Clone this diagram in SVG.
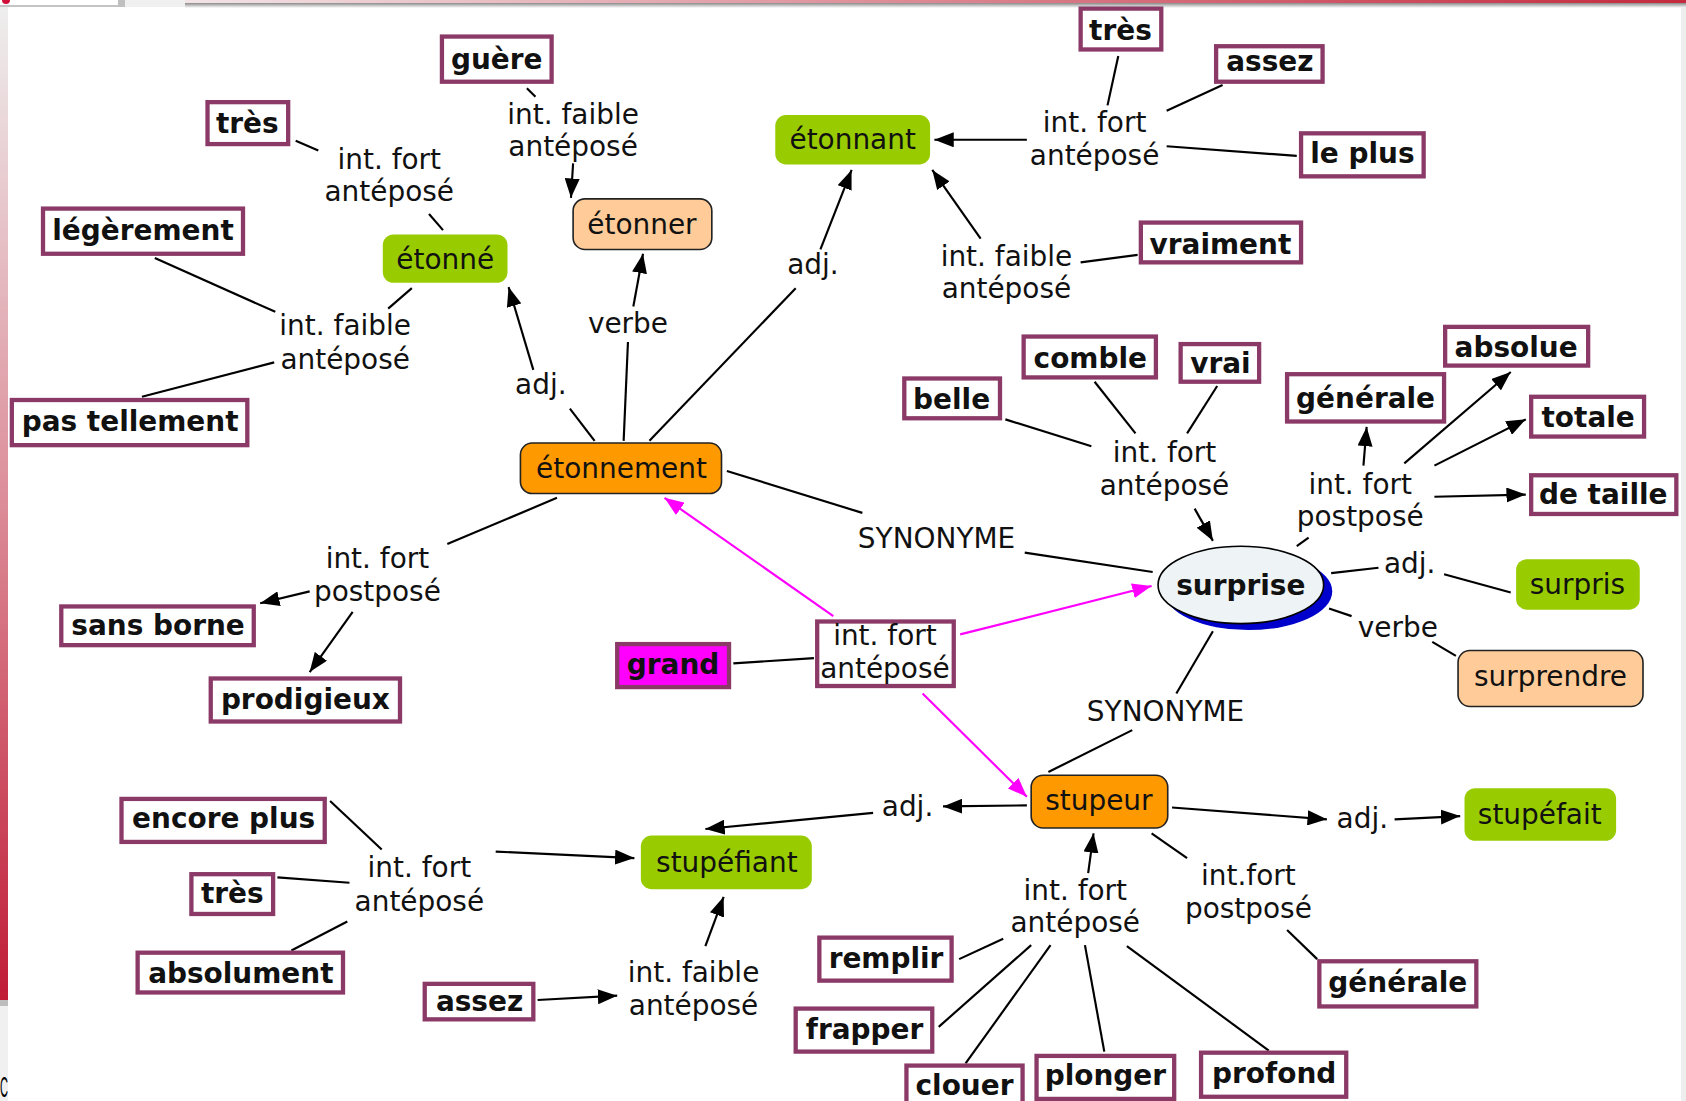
<svg xmlns="http://www.w3.org/2000/svg" width="1686" height="1101" viewBox="0 0 1686 1101">
<defs>
<linearGradient id="gLeft" x1="0" y1="0" x2="0" y2="1">
<stop offset="0" stop-color="#eeeeee"/>
<stop offset="0.5" stop-color="#dc8c98"/>
<stop offset="1" stop-color="#c01c36"/>
</linearGradient>
<linearGradient id="gTop" x1="0" y1="0" x2="1" y2="0">
<stop offset="0" stop-color="#f2e4e6"/>
<stop offset="1" stop-color="#c42a3e"/>
</linearGradient>
<linearGradient id="gShade" x1="0" y1="0" x2="0" y2="1">
<stop offset="0" stop-color="#8a8a8a"/>
<stop offset="1" stop-color="#ffffff"/>
</linearGradient>
<marker id="ah" viewBox="0 0 18 14" refX="18" refY="7" markerWidth="18" markerHeight="14" orient="auto" markerUnits="userSpaceOnUse">
<path d="M0,0 L18,7 L0,14 z" fill="#000"/>
</marker>
<marker id="am" viewBox="0 0 18 14" refX="18" refY="7" markerWidth="18" markerHeight="14" orient="auto" markerUnits="userSpaceOnUse">
<path d="M0,0 L18,7 L0,14 z" fill="#ff00ff"/>
</marker>
</defs>
<style>
.lbl{font-family:"DejaVu Sans","Noto Sans",sans-serif;font-size:26px;fill:#111;text-anchor:middle}
.bt{font-family:"DejaVu Sans","Noto Sans",sans-serif;font-size:26px;font-weight:bold;fill:#111;text-anchor:middle}
.nt{font-family:"DejaVu Sans","Noto Sans",sans-serif;font-size:26px;fill:#111;text-anchor:middle}
.pb{fill:#fff;stroke:#8b3a68;stroke-width:4}
.gr{fill:#99cc00}
.pe{fill:#ffcc99;stroke:#222;stroke-width:1.5}
.or{fill:#ff9900;stroke:#222;stroke-width:1.5}
.ln{stroke:#000;stroke-width:2;fill:none}
.ar{stroke:#000;stroke-width:2;fill:none;marker-end:url(#ah)}
.mg{stroke:#ff00ff;stroke-width:2;fill:none;marker-end:url(#am)}
</style>
<rect width="1686" height="1101" fill="#fff"/>
<g id="frame">
<rect x="0" y="0" width="118" height="6" fill="#ffffff"/>
<rect x="0" y="5" width="118" height="2" fill="#c4c4c4"/>
<circle cx="6" cy="0" r="4" fill="#d0103a"/>
<rect x="118" y="0" width="7" height="7" fill="#c0c0c0"/>
<rect x="125" y="0" width="60" height="7" fill="#f0f0f0"/>
<rect x="185" y="0" width="1501" height="3" fill="url(#gTop)"/>
<rect x="185" y="3" width="1501" height="5" fill="url(#gShade)"/>
<rect x="0" y="7" width="8" height="993" fill="url(#gLeft)"/>
<rect x="0" y="1000" width="8" height="6" fill="#bdbdbd"/>
<rect x="0" y="1006" width="8" height="95" fill="#f0f0f0"/>
<rect x="1681" y="7" width="5" height="1094" fill="#eeeeee"/>
<text x="0" y="1097" font-family="Liberation Sans, sans-serif" font-size="30" fill="#000" textLength="8" lengthAdjust="spacingAndGlyphs">C</text>
</g>
<g transform="scale(1.07526)">
<g id="connectors">
<line class="ln" x1="490" y1="82" x2="498" y2="90"/>
<line class="ar" x1="533" y1="152" x2="531" y2="184"/>
<line class="ln" x1="275" y1="131" x2="296" y2="140"/>
<line class="ln" x1="399" y1="199" x2="412" y2="214"/>
<line class="ln" x1="144" y1="240" x2="256" y2="290"/>
<line class="ln" x1="132" y1="369" x2="255" y2="337"/>
<line class="ln" x1="361" y1="287" x2="383" y2="268"/>
<line class="ln" x1="553" y1="410" x2="530" y2="380"/>
<line class="ar" x1="496" y1="344" x2="473" y2="267"/>
<line class="ln" x1="580" y1="410" x2="584" y2="318"/>
<line class="ar" x1="589" y1="285" x2="598" y2="236"/>
<line class="ln" x1="604" y1="410" x2="740" y2="268"/>
<line class="ar" x1="763" y1="232" x2="792" y2="158"/>
<line class="ar" x1="955" y1="130" x2="869" y2="130"/>
<line class="ln" x1="1040" y1="52" x2="1030" y2="98"/>
<line class="ln" x1="1137" y1="79" x2="1085" y2="103"/>
<line class="ln" x1="1206" y1="145" x2="1085" y2="136"/>
<line class="ln" x1="1058" y1="237" x2="1005" y2="244"/>
<line class="ar" x1="912" y1="222" x2="867" y2="158"/>
<line class="ln" x1="676" y1="438" x2="802" y2="477"/>
<line class="ln" x1="953" y1="514" x2="1072" y2="532"/>
<line class="ln" x1="935" y1="390" x2="1015" y2="415"/>
<line class="ln" x1="1018" y1="355" x2="1056" y2="403"/>
<line class="ln" x1="1132" y1="359" x2="1104" y2="403"/>
<line class="ar" x1="1111" y1="473" x2="1128" y2="503"/>
<line class="ln" x1="1206" y1="508" x2="1217" y2="500"/>
<line class="ar" x1="1268" y1="433" x2="1271" y2="397"/>
<line class="ar" x1="1306" y1="431" x2="1405" y2="346"/>
<line class="ar" x1="1334" y1="433" x2="1419" y2="390"/>
<line class="ar" x1="1334" y1="462" x2="1419" y2="460"/>
<line class="ln" x1="1238" y1="533" x2="1282" y2="528"/>
<line class="ln" x1="1343" y1="534" x2="1405" y2="551"/>
<line class="ln" x1="1236" y1="566" x2="1257" y2="573"/>
<line class="ln" x1="1332" y1="597" x2="1354" y2="610"/>
<line class="ln" x1="1128" y1="587" x2="1094" y2="645"/>
<line class="ln" x1="1053" y1="679" x2="975" y2="718"/>
<line class="ln" x1="518" y1="463" x2="416" y2="506"/>
<line class="ar" x1="288" y1="550" x2="242" y2="561"/>
<line class="ar" x1="328" y1="569" x2="288" y2="625"/>
<line class="ln" x1="682" y1="617" x2="757" y2="612"/>
<line class="mg" x1="775" y1="573" x2="618" y2="463"/>
<line class="mg" x1="893" y1="590" x2="1071" y2="545"/>
<line class="mg" x1="858" y1="645" x2="955" y2="741"/>
<line class="ar" x1="955" y1="749" x2="877" y2="750"/>
<line class="ar" x1="812" y1="756" x2="656" y2="771"/>
<line class="ar" x1="1090" y1="751" x2="1234" y2="762"/>
<line class="ar" x1="1297" y1="762" x2="1358" y2="759"/>
<line class="ar" x1="1012" y1="812" x2="1017" y2="775"/>
<line class="ln" x1="1071" y1="775" x2="1104" y2="798"/>
<line class="ln" x1="1197" y1="865" x2="1225" y2="892"/>
<line class="ln" x1="892" y1="892" x2="933" y2="873"/>
<line class="ln" x1="873" y1="955" x2="959" y2="879"/>
<line class="ln" x1="898" y1="989" x2="977" y2="879"/>
<line class="ln" x1="1027" y1="978" x2="1009" y2="879"/>
<line class="ln" x1="1180" y1="977" x2="1048" y2="880"/>
<line class="ln" x1="307" y1="745" x2="355" y2="790"/>
<line class="ln" x1="258" y1="816" x2="325" y2="821"/>
<line class="ln" x1="271" y1="884" x2="323" y2="857"/>
<line class="ar" x1="461" y1="792" x2="590" y2="798"/>
<line class="ar" x1="500" y1="930" x2="574" y2="926"/>
<line class="ar" x1="656" y1="880" x2="673" y2="834"/>
</g>
<g id="labels">
<text class="lbl" x="533" y="115">int. faible</text><text class="lbl" x="533" y="145">antéposé</text>
<text class="lbl" x="362" y="157">int. fort</text><text class="lbl" x="362" y="187">antéposé</text>
<text class="lbl" x="321" y="312">int. faible</text><text class="lbl" x="321" y="343">antéposé</text>
<text class="lbl" x="503" y="366">adj.</text>
<text class="lbl" x="584" y="310">verbe</text>
<text class="lbl" x="756" y="255">adj.</text>
<text class="lbl" x="1018" y="123">int. fort</text><text class="lbl" x="1018" y="153">antéposé</text>
<text class="lbl" x="936" y="247">int. faible</text><text class="lbl" x="936" y="277">antéposé</text>
<text class="lbl" x="871" y="510">SYNONYME</text>
<text class="lbl" x="1083" y="430">int. fort</text><text class="lbl" x="1083" y="460">antéposé</text>
<text class="lbl" x="1265" y="459">int. fort</text><text class="lbl" x="1265" y="489">postposé</text>
<text class="lbl" x="1311" y="533">adj.</text>
<text class="lbl" x="1300" y="592">verbe</text>
<text class="lbl" x="1084" y="671">SYNONYME</text>
<text class="lbl" x="351" y="528">int. fort</text><text class="lbl" x="351" y="559">postposé</text>
<text class="lbl" x="844" y="759">adj.</text>
<text class="lbl" x="1267" y="770">adj.</text>
<text class="lbl" x="1000" y="837">int. fort</text><text class="lbl" x="1000" y="867">antéposé</text>
<text class="lbl" x="1161" y="823">int.fort</text><text class="lbl" x="1161" y="854">postposé</text>
<text class="lbl" x="390" y="816">int. fort</text><text class="lbl" x="390" y="847">antéposé</text>
<text class="lbl" x="645" y="913">int. faible</text><text class="lbl" x="645" y="944">antéposé</text>
</g>
<g id="n-guere"><rect class="pb" x="411" y="34" width="102" height="42"/><text class="bt" x="462" y="64">guère</text></g>
<g id="n-tres1"><rect class="pb" x="193" y="95" width="75" height="39"/><text class="bt" x="230" y="124">très</text></g>
<g id="n-legerement"><rect class="pb" x="40" y="194" width="186" height="42"/><text class="bt" x="133" y="223">légèrement</text></g>
<g id="n-pastellement"><rect class="pb" x="11" y="372" width="219" height="42"/><text class="bt" x="121" y="401">pas tellement</text></g>
<g id="n-tres2"><rect class="pb" x="1005" y="8" width="75" height="38"/><text class="bt" x="1042" y="37">très</text></g>
<g id="n-assez1"><rect class="pb" x="1131" y="43" width="99" height="33"/><text class="bt" x="1181" y="66">assez</text></g>
<g id="n-leplus"><rect class="pb" x="1210" y="124" width="114" height="40"/><text class="bt" x="1267" y="152">le plus</text></g>
<g id="n-vraiment"><rect class="pb" x="1061" y="207" width="149" height="37"/><text class="bt" x="1135" y="236">vraiment</text></g>
<g id="n-comble"><rect class="pb" x="952" y="313" width="123" height="38"/><text class="bt" x="1014" y="342">comble</text></g>
<g id="n-vrai"><rect class="pb" x="1098" y="320" width="73" height="35"/><text class="bt" x="1135" y="347">vrai</text></g>
<g id="n-belle"><rect class="pb" x="841" y="352" width="89" height="37"/><text class="bt" x="885" y="380">belle</text></g>
<g id="n-generale1"><rect class="pb" x="1197" y="348" width="146" height="44"/><text class="bt" x="1270" y="379">générale</text></g>
<g id="n-absolue"><rect class="pb" x="1344" y="304" width="133" height="36"/><text class="bt" x="1410" y="332">absolue</text></g>
<g id="n-totale"><rect class="pb" x="1424" y="369" width="105" height="37"/><text class="bt" x="1477" y="397">totale</text></g>
<g id="n-detaille"><rect class="pb" x="1424" y="442" width="135" height="36"/><text class="bt" x="1491" y="469">de taille</text></g>
<g id="n-sansborne"><rect class="pb" x="57" y="564" width="179" height="36"/><text class="bt" x="147" y="591">sans borne</text></g>
<g id="n-prodigieux"><rect class="pb" x="196" y="631" width="176" height="40"/><text class="bt" x="284" y="659">prodigieux</text></g>
<g id="n-grand"><rect class="pb" x="574" y="599" width="104" height="40" style="fill:#ff00ff"/><text class="bt" x="626" y="627">grand</text></g>
<g id="n-intfortbox"><rect class="pb" x="760" y="578" width="127" height="60"/><text class="lbl" x="823" y="600">int. fort</text><text class="lbl" x="823" y="631">antéposé</text></g>
<g id="n-encoreplus"><rect class="pb" x="113" y="743" width="189" height="40"/><text class="bt" x="208" y="770">encore plus</text></g>
<g id="n-tres3"><rect class="pb" x="178" y="813" width="76" height="37"/><text class="bt" x="216" y="840">très</text></g>
<g id="n-absolument"><rect class="pb" x="128" y="886" width="191" height="37"/><text class="bt" x="224" y="914">absolument</text></g>
<g id="n-assez2"><rect class="pb" x="395" y="915" width="101" height="33"/><text class="bt" x="446" y="940">assez</text></g>
<g id="n-remplir"><rect class="pb" x="762" y="872" width="123" height="40"/><text class="bt" x="824" y="900">remplir</text></g>
<g id="n-frapper"><rect class="pb" x="740" y="938" width="127" height="40"/><text class="bt" x="804" y="966">frapper</text></g>
<g id="n-clouer"><rect class="pb" x="843" y="991" width="108" height="42"/><text class="bt" x="897" y="1018">clouer</text></g>
<g id="n-plonger"><rect class="pb" x="964" y="982" width="128" height="40"/><text class="bt" x="1028" y="1009">plonger</text></g>
<g id="n-profond"><rect class="pb" x="1117" y="979" width="135" height="41"/><text class="bt" x="1185" y="1007">profond</text></g>
<g id="n-generale2"><rect class="pb" x="1227" y="894" width="146" height="42"/><text class="bt" x="1300" y="923">générale</text></g>
<g id="n-etonne"><rect class="gr" x="356" y="218" width="116" height="45" rx="10"/><text class="nt" x="414" y="250">étonné</text></g>
<g id="n-etonnant"><rect class="gr" x="721" y="107" width="144" height="46" rx="10"/><text class="nt" x="793" y="139">étonnant</text></g>
<g id="n-surpris"><rect class="gr" x="1410" y="520" width="115" height="47" rx="10"/><text class="nt" x="1467" y="552">surpris</text></g>
<g id="n-stupefait"><rect class="gr" x="1362" y="733" width="141" height="49" rx="10"/><text class="nt" x="1432" y="766">stupéfait</text></g>
<g id="n-stupefiant"><rect class="gr" x="596" y="777" width="159" height="50" rx="10"/><text class="nt" x="676" y="811">stupéfiant</text></g>
<g id="n-etonner"><rect class="pe" x="533" y="185" width="129" height="47" rx="11"/><text class="nt" x="597" y="218">étonner</text></g>
<g id="n-surprendre"><rect class="pe" x="1356" y="605" width="172" height="52" rx="11"/><text class="nt" x="1442" y="638">surprendre</text></g>
<g id="n-etonnement"><rect class="or" x="484" y="412" width="187" height="47" rx="11"/><text class="nt" x="578" y="445">étonnement</text></g>
<g id="n-stupeur"><rect class="or" x="959" y="721" width="127" height="49" rx="11"/><text class="nt" x="1022" y="753">stupeur</text></g>
<g id="n-surprise"><ellipse cx="1161" cy="550" rx="78" ry="36" fill="#0000cc"/><ellipse cx="1154" cy="544" rx="77" ry="36" fill="#eef3f6" stroke="#000" stroke-width="1.5"/><text class="bt" x="1154" y="553">surprise</text></g>
</g>
</svg>
